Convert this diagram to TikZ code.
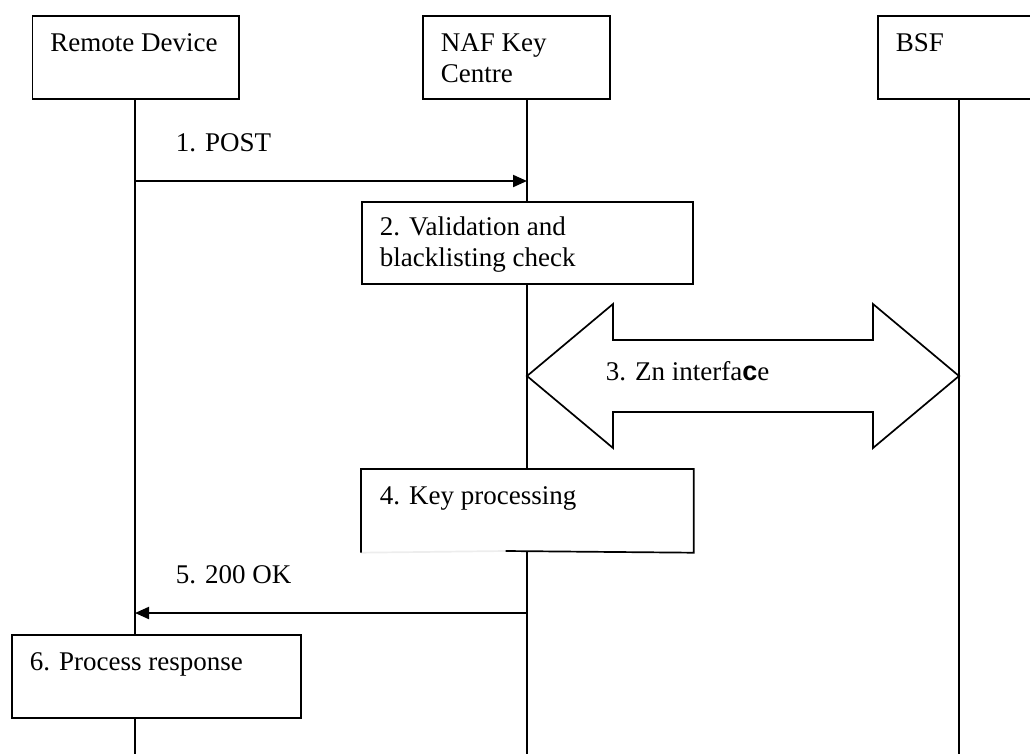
\documentclass[tikz,border=0pt]{standalone}
\usepackage{fontspec}
\setmainfont{Liberation Serif}
\setsansfont{Liberation Sans}
\usetikzlibrary{arrows.meta}
\begin{document}
\begin{tikzpicture}[x=1pt,y=-1pt,line width=1.7pt,
  box/.style={draw,fill=white,rectangle,inner sep=0pt,anchor=north west},
  blank/.style={fill=white,rectangle,inner sep=0pt,anchor=north west},
  lbl/.style={anchor=base west,inner sep=0pt,font=\fontsize{27}{31}\selectfont},
  msg/.style={line width=2pt,-{Triangle[length=14pt,width=12pt]}},
  life/.style={line width=1.7pt}]
\useasboundingbox (0,0) rectangle (1030,753);
\clip (0,0) rectangle (1030,753);
% lifeline coordinates
\coordinate (rdtop) at (135,98);
\coordinate (rdbot) at (135,760);
\coordinate (naftop) at (527,98);
\coordinate (nafbot) at (527,760);
\coordinate (bsftop) at (959,98);
\coordinate (bsfbot) at (959,760);
\draw[life] (rdtop) -- (rdbot);
\draw[life] (naftop) -- (nafbot);
\draw[life] (bsftop) -- (bsfbot);
% header boxes
\node[box,minimum width=206.5pt,minimum height=83pt] (rd) at (31.5,15) {};
\node[box,minimum width=187pt,minimum height=83pt] (naf) at (422,15) {};
\node[box,minimum width=200pt,minimum height=83pt] (bsf) at (877,15) {};
\node[lbl] (rdl) at (49.5,51.5) {Remote Device};
\node[lbl] (nafl1) at (440,51.5) {NAF Key};
\node[lbl] (nafl2) at (440,82.5) {Centre};
\node[lbl] (bsfl) at (895,51.5) {BSF};
% message 1
\coordinate (m1s) at (135,181);
\coordinate (m1e) at (527,181);
\draw[msg] (m1s) -- (m1e);
\node[lbl] (m1l) at (175,151) {1. POST};
% box 2
\node[box,minimum width=331pt,minimum height=82pt] (b2) at (361,201) {};
\node[lbl] (b2l1) at (379,235) {2. Validation and};
\node[lbl] (b2l2) at (379,266.5) {blacklisting check};
% double arrow (Zn interface)
\draw[fill=white] (527,376) -- (613,304) -- (613,340) -- (873,340) -- (873,304)
  -- (959,376) -- (873,448) -- (873,412) -- (613,412) -- (613,448) -- cycle;
\node[lbl] (znl) at (605,380) {3. Zn interfa{\sffamily\bfseries c}e};
% box 4
\node[blank,minimum width=331pt,minimum height=82pt] (b4) at (361,469) {};
\draw[black!7] (b4.south west) -- (505.7,551);
\draw (505.7,551) -- (b4.south east) -- (b4.north east) -- (b4.north west) -- (b4.south west);
\node[lbl] (b4l) at (379,504) {4. Key processing};
% message 5
\coordinate (m5s) at (527,613);
\coordinate (m5e) at (135,613);
\draw[msg] (m5s) -- (m5e);
\node[lbl] (m5l) at (175,583) {5. 200 OK};
% box 6
\node[box,minimum width=289pt,minimum height=83pt] (b6) at (11,634) {};
\node[lbl] (b6l) at (29,670) {6. Process response};
\end{tikzpicture}
\end{document}
